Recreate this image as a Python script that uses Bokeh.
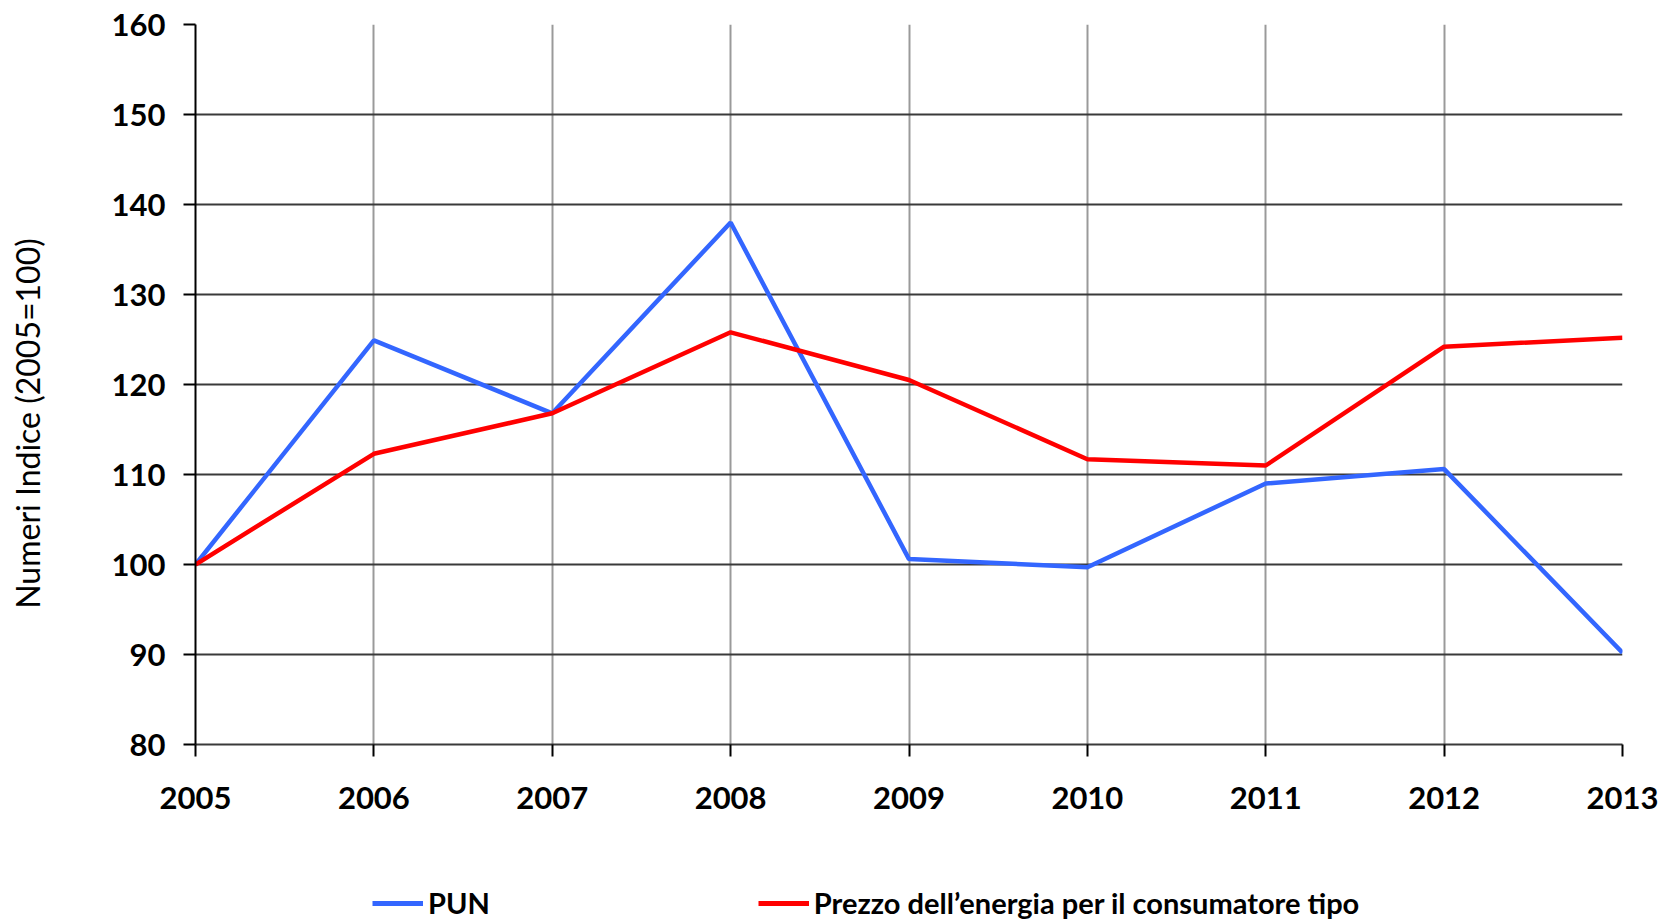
import math
from bokeh.plotting import figure
from bokeh.models import Range1d, FixedTicker, Legend, LegendItem, Label
from bokeh.layouts import column, row
from bokeh.embed import file_html
from bokeh.resources import INLINE

years = [2005, 2006, 2007, 2008, 2009, 2010, 2011, 2012, 2013]
pun = [100.0, 124.9, 116.8, 138.0, 100.6, 99.7, 109.0, 110.6, 90.2]
prezzo = [100.0, 112.3, 116.8, 125.8, 120.5, 111.7, 111.0, 124.2, 125.2]
y_ticks = [80, 90, 100, 110, 120, 130, 140, 150, 160]
series_names = ["PUN", "Prezzo dell\u2019energia per il consumatore tipo"]
series_colors = ["#3366FF", "#FF0000"]
y_title = "Numeri Indice (2005=100)"

FONT = "Lato"

p = figure(width=1599, height=860, output_backend="svg", toolbar_location=None,
           x_range=Range1d(2005, 2013), y_range=Range1d(80, 160),
           min_border_left=135, min_border_right=37, min_border_top=24,
           min_border_bottom=116)
p.outline_line_color = None
p.background_fill_color = "white"
p.border_fill_color = "white"

# grids
p.ygrid.ticker = FixedTicker(ticks=y_ticks)
p.ygrid.grid_line_color = "#3a3a3a"
p.ygrid.grid_line_width = 2
p.xgrid.ticker = FixedTicker(ticks=years)
p.xgrid.grid_line_color = "#9a9a9a"
p.xgrid.grid_line_width = 2

# axes
p.xaxis.ticker = FixedTicker(ticks=years)
p.yaxis.ticker = FixedTicker(ticks=y_ticks)
for ax in (p.xaxis[0], p.yaxis[0]):
    ax.axis_line_color = "black"
    ax.axis_line_width = 2
    ax.major_tick_line_color = "black"
    ax.major_tick_line_width = 2
    ax.major_tick_out = 12
    ax.major_tick_in = 0
    ax.minor_tick_out = 0
    ax.minor_tick_in = 0
    ax.major_label_text_font = FONT
    ax.major_label_text_font_style = "bold"
    ax.major_label_text_font_size = "31px"
    ax.major_label_text_color = "black"
p.xaxis.axis_line_color = "#3a3a3a"
p.yaxis.major_label_standoff = 18
p.xaxis.major_label_standoff = 30

p.line(years, pun, line_color=series_colors[0], line_width=4.5)
p.line(years, prezzo, line_color=series_colors[1], line_width=4.5)

# y-axis title strip on the left
pt = figure(width=60, height=860, output_backend="svg", toolbar_location=None,
            x_range=Range1d(0, 1), y_range=Range1d(0, 1),
            x_axis_location=None, y_axis_location=None,
            min_border_left=0, min_border_right=0, min_border_top=0,
            min_border_bottom=0)
pt.grid.visible = False
pt.outline_line_color = None
pt.add_layout(Label(x=27, y=321, x_units="screen", y_units="screen",
                    text=y_title, angle=math.pi / 2, text_align="center",
                    text_baseline="middle", text_font=FONT,
                    text_font_style="normal", text_font_size="32px",
                    text_color="black"), "center")

# legend strip below the chart
pl = figure(width=1659, height=60, output_backend="svg", toolbar_location=None,
            x_range=Range1d(0, 1), y_range=Range1d(0, 1),
            x_axis_location=None, y_axis_location=None,
            min_border_left=0, min_border_right=0, min_border_top=0,
            min_border_bottom=0)
pl.grid.visible = False
pl.outline_line_color = None
# proxy renderers (data lies outside this strip's ranges; only legend glyphs show)
lr1 = pl.line(years, pun, line_color=series_colors[0], line_width=5)
lr2 = pl.line(years, prezzo, line_color=series_colors[1], line_width=5)
legend = Legend(items=[LegendItem(label=series_names[0], renderers=[lr1]),
                       LegendItem(label=series_names[1], renderers=[lr2])],
                orientation="horizontal", location=(372, 0),
                border_line_color=None, background_fill_alpha=0,
                padding=0, margin=0, spacing=268,
                glyph_width=51, glyph_height=20, label_standoff=5,
                label_text_font=FONT, label_text_font_style="bold",
                label_text_font_size="29px", label_text_color="black")
pl.add_layout(legend, "center")

layout = column(row(pt, p, spacing=0), pl, spacing=0)
open("out.html", "w").write(file_html(layout, INLINE))
